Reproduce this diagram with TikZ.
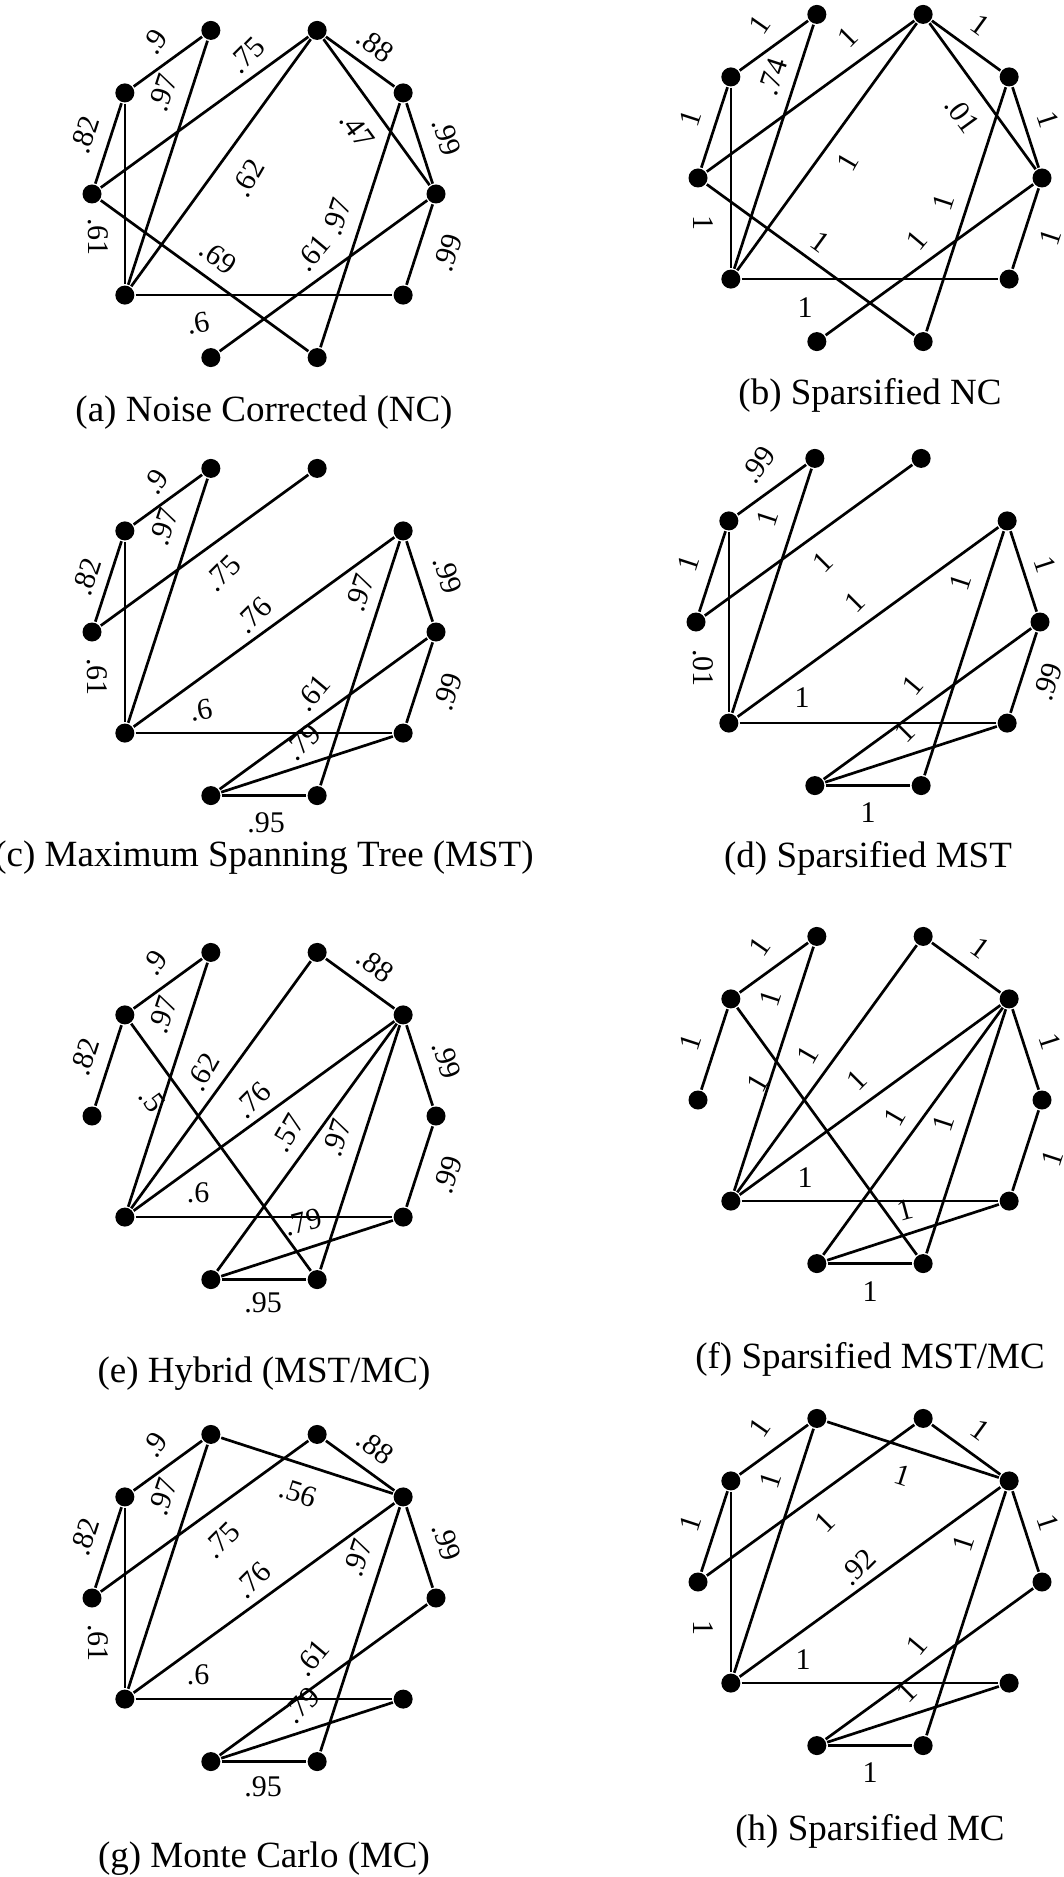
\documentclass[tikz,border=0pt]{standalone}
\usepackage{fontspec}
\setmainfont{Liberation Serif}
\tikzset{
  vtx/.style={circle, fill=black, inner sep=0pt, minimum size=9.5pt},
  lbl/.style={inner sep=0pt, font=\fontsize{15}{15}\selectfont},
  captext/.style={inner sep=0pt, font=\fontsize{18.5}{20}\selectfont}
}
\begin{document}
\begin{tikzpicture}[x=0.5pt, y=-0.5pt, line width=1.35pt]
\useasboundingbox (0,0) rectangle (1064,1877);

% (a) noise corrected
\begin{scope}[shift={(264,194)}]
  \foreach \i in {0,...,9}
    \node[vtx] (a\i) at ({172*cos(36*\i)},{-172*sin(36*\i)}) {};
  \draw (a3) -- (a4);
  \draw (a4) -- (a5);
  \draw (a4) -- (a6);
  \draw (a3) -- (a6);
  \draw (a2) -- (a5);
  \draw (a2) -- (a6);
  \draw (a2) -- (a1);
  \draw (a2) -- (a0);
  \draw (a1) -- (a0);
  \draw (a0) -- (a9);
  \draw (a5) -- (a8);
  \draw (a0) -- (a7);
  \draw (a1) -- (a8);
  \draw (a6) -- (a9);
  \node[lbl, rotate=55] at (-109,-152) {.9};
  \node[lbl, rotate=72] at (-179,-59) {.82};
  \node[lbl, rotate=-90] at (-166,43) {.61};
  \node[lbl, rotate=72] at (-101,-101) {.97};
  \node[lbl, rotate=45] at (-17,-139) {.75};
  \node[lbl, rotate=60] at (-16,-16) {.62};
  \node[lbl, rotate=-36] at (111,-149) {.88};
  \node[lbl, rotate=-54] at (93,-64) {.47};
  \node[lbl, rotate=-72] at (183,-57) {.99};
  \node[lbl, rotate=72] at (184,59) {.99};
  \node[lbl, rotate=-36] at (-46,63) {.69};
  \node[lbl, rotate=50] at (49,59) {.61};
  \node[lbl, rotate=72] at (73,23) {.97};
  \node[lbl, rotate=10] at (-66,129) {.6};
\end{scope}
\node[captext] (capa) at (264,413) {(a) Noise Corrected (NC)};

% (b) sparsified NC
\begin{scope}[shift={(870,178)}]
  \foreach \i in {0,...,9}
    \node[vtx] (b\i) at ({172*cos(36*\i)},{-172*sin(36*\i)}) {};
  \draw (b3) -- (b4);
  \draw (b4) -- (b5);
  \draw (b4) -- (b6);
  \draw (b3) -- (b6);
  \draw (b2) -- (b5);
  \draw (b2) -- (b6);
  \draw (b2) -- (b1);
  \draw (b2) -- (b0);
  \draw (b1) -- (b0);
  \draw (b0) -- (b9);
  \draw (b5) -- (b8);
  \draw (b0) -- (b7);
  \draw (b1) -- (b8);
  \draw (b6) -- (b9);
  \node[lbl, rotate=55] at (-110,-153) {1};
  \node[lbl, rotate=72] at (-180,-60) {1};
  \node[lbl, rotate=-90] at (-167,45) {1};
  \node[lbl, rotate=72] at (-97,-101) {.74};
  \node[lbl, rotate=45] at (-22,-141) {1};
  \node[lbl, rotate=60] at (-22,-16) {1};
  \node[lbl, rotate=-36] at (110,-153) {1};
  \node[lbl, rotate=-54] at (92,-63) {.01};
  \node[lbl, rotate=-72] at (178,-58) {1};
  \node[lbl, rotate=72] at (180,59) {1};
  \node[lbl, rotate=-36] at (-50,64) {1};
  \node[lbl, rotate=50] at (47,62) {1};
  \node[lbl, rotate=72] at (73,24) {1};
  \node[lbl] at (-65,130) {1};
\end{scope}
\node[captext] (capb) at (870,395) {(b) Sparsified NC};

% (c) maximum spanning tree
\begin{scope}[shift={(264,632)}]
  \foreach \i in {0,...,9}
    \node[vtx] (c\i) at ({172*cos(36*\i)},{-172*sin(36*\i)}) {};
  \draw (c3) -- (c4);
  \draw (c4) -- (c5);
  \draw (c4) -- (c6);
  \draw (c3) -- (c6);
  \draw (c2) -- (c5);
  \draw (c1) -- (c6);
  \draw (c6) -- (c9);
  \draw (c1) -- (c8);
  \draw (c1) -- (c0);
  \draw (c0) -- (c9);
  \draw (c0) -- (c7);
  \draw (c9) -- (c7);
  \draw (c7) -- (c8);
  \node[lbl, rotate=55] at (-108,-150) {.9};
  \node[lbl, rotate=72] at (-100,-105) {.97};
  \node[lbl, rotate=72] at (-177,-55) {.82};
  \node[lbl, rotate=-90] at (-167,45) {.61};
  \node[lbl, rotate=45] at (-41,-59) {.75};
  \node[lbl, rotate=45] at (-10,-17) {.76};
  \node[lbl, rotate=10] at (-63,78) {.6};
  \node[lbl, rotate=72] at (96,-39) {.97};
  \node[lbl, rotate=-72] at (184,-57) {.99};
  \node[lbl, rotate=72] at (184,60) {.99};
  \node[lbl, rotate=50] at (49,61) {.61};
  \node[lbl, rotate=45] at (39,110) {.79};
  \node[lbl] at (2,191) {.95};
\end{scope}
\node[captext] (capc) at (264,858) {(c) Maximum Spanning Tree (MST)};

% (d) sparsified MST
\begin{scope}[shift={(868,622)}]
  \foreach \i in {0,...,9}
    \node[vtx] (d\i) at ({172*cos(36*\i)},{-172*sin(36*\i)}) {};
  \draw (d3) -- (d4);
  \draw (d4) -- (d5);
  \draw (d4) -- (d6);
  \draw (d3) -- (d6);
  \draw (d2) -- (d5);
  \draw (d1) -- (d6);
  \draw (d6) -- (d9);
  \draw (d1) -- (d8);
  \draw (d1) -- (d0);
  \draw (d0) -- (d9);
  \draw (d0) -- (d7);
  \draw (d9) -- (d7);
  \draw (d7) -- (d8);
  \node[lbl, rotate=55] at (-110,-157) {.99};
  \node[lbl, rotate=72] at (-101,-104) {1};
  \node[lbl, rotate=72] at (-180,-59) {1};
  \node[lbl, rotate=-90] at (-165,46) {.01};
  \node[lbl, rotate=45] at (-45,-60) {1};
  \node[lbl, rotate=45] at (-13,-20) {1};
  \node[lbl] at (-66,76) {1};
  \node[lbl, rotate=72] at (92,-40) {1};
  \node[lbl, rotate=-72] at (177,-57) {1};
  \node[lbl, rotate=72] at (180,60) {.99};
  \node[lbl, rotate=50] at (45,63) {1};
  \node[lbl, rotate=45] at (37,110) {1};
  \node[lbl] at (0,191) {1};
\end{scope}
\node[captext] (capd) at (868,858) {(d) Sparsified MST};

% (e) hybrid
\begin{scope}[shift={(264,1116)}]
  \foreach \i in {0,...,9}
    \node[vtx] (e\i) at ({172*cos(36*\i)},{-172*sin(36*\i)}) {};
  \draw (e3) -- (e4);
  \draw (e4) -- (e5);
  \draw (e3) -- (e6);
  \draw (e4) -- (e8);
  \draw (e2) -- (e6);
  \draw (e2) -- (e1);
  \draw (e1) -- (e6);
  \draw (e1) -- (e7);
  \draw (e1) -- (e8);
  \draw (e1) -- (e0);
  \draw (e0) -- (e9);
  \draw (e6) -- (e9);
  \draw (e9) -- (e7);
  \draw (e7) -- (e8);
  \node[lbl, rotate=55] at (-109,-153) {.9};
  \node[lbl, rotate=72] at (-179,-59) {.82};
  \node[lbl, rotate=72] at (-101,-101) {.97};
  \node[lbl, rotate=-54] at (-112,-16) {.5};
  \node[lbl, rotate=60] at (-61,-44) {.62};
  \node[lbl, rotate=-36] at (111,-151) {.88};
  \node[lbl, rotate=45] at (-11,-16) {.76};
  \node[lbl, rotate=60] at (24,17) {.57};
  \node[lbl, rotate=72] at (73,22) {.97};
  \node[lbl, rotate=-72] at (183,-56) {.99};
  \node[lbl, rotate=72] at (184,59) {.99};
  \node[lbl] at (-66,77) {.6};
  \node[lbl, rotate=15] at (39,106) {.79};
  \node[lbl] at (-1,187) {.95};
\end{scope}
\node[captext] (cape) at (264,1374) {(e) Hybrid (MST/MC)};

% (f) sparsified hybrid
\begin{scope}[shift={(870,1100)}]
  \foreach \i in {0,...,9}
    \node[vtx] (f\i) at ({172*cos(36*\i)},{-172*sin(36*\i)}) {};
  \draw (f3) -- (f4);
  \draw (f4) -- (f5);
  \draw (f3) -- (f6);
  \draw (f4) -- (f8);
  \draw (f2) -- (f6);
  \draw (f2) -- (f1);
  \draw (f1) -- (f6);
  \draw (f1) -- (f7);
  \draw (f1) -- (f8);
  \draw (f1) -- (f0);
  \draw (f0) -- (f9);
  \draw (f6) -- (f9);
  \draw (f9) -- (f7);
  \draw (f7) -- (f8);
  \node[lbl, rotate=55] at (-110,-153) {1};
  \node[lbl, rotate=72] at (-180,-58) {1};
  \node[lbl, rotate=72] at (-100,-102) {1};
  \node[lbl, rotate=60] at (-112,-17) {1};
  \node[lbl, rotate=60] at (-62,-45) {1};
  \node[lbl, rotate=-36] at (110,-152) {1};
  \node[lbl, rotate=45] at (-13,-20) {1};
  \node[lbl, rotate=60] at (25,17) {1};
  \node[lbl, rotate=72] at (73,23) {1};
  \node[lbl, rotate=-72] at (180,-58) {1};
  \node[lbl, rotate=72] at (182,58) {1};
  \node[lbl] at (-65,78) {1};
  \node[lbl, rotate=15] at (35,110) {1};
  \node[lbl] at (0,192) {1};
\end{scope}
\node[captext] (capf) at (870,1359) {(f) Sparsified MST/MC};

% (g) monte carlo
\begin{scope}[shift={(264,1598)}]
  \foreach \i in {0,...,9}
    \node[vtx] (g\i) at ({172*cos(36*\i)},{-172*sin(36*\i)}) {};
  \draw (g3) -- (g4);
  \draw (g4) -- (g5);
  \draw (g4) -- (g6);
  \draw (g3) -- (g6);
  \draw (g3) -- (g1);
  \draw (g2) -- (g5);
  \draw (g2) -- (g1);
  \draw (g1) -- (g6);
  \draw (g1) -- (g8);
  \draw (g1) -- (g0);
  \draw (g0) -- (g7);
  \draw (g6) -- (g9);
  \draw (g9) -- (g7);
  \draw (g7) -- (g8);
  \node[lbl, rotate=55] at (-109,-153) {.9};
  \node[lbl, rotate=72] at (-179,-61) {.82};
  \node[lbl, rotate=-90] at (-166,45) {.61};
  \node[lbl, rotate=72] at (-101,-101) {.97};
  \node[lbl, rotate=-18] at (34,-105) {.56};
  \node[lbl, rotate=45] at (-42,-58) {.75};
  \node[lbl, rotate=-36] at (111,-151) {.88};
  \node[lbl, rotate=45] at (-11,-18) {.76};
  \node[lbl, rotate=72] at (94,-40) {.97};
  \node[lbl, rotate=-72] at (183,-56) {.99};
  \node[lbl, rotate=50] at (48,60) {.61};
  \node[lbl] at (-66,77) {.6};
  \node[lbl, rotate=45] at (38,107) {.79};
  \node[lbl] at (-1,189) {.95};
\end{scope}
\node[captext] (capg) at (264,1859) {(g) Monte Carlo (MC)};

% (h) sparsified MC
\begin{scope}[shift={(870,1582)}]
  \foreach \i in {0,...,9}
    \node[vtx] (h\i) at ({172*cos(36*\i)},{-172*sin(36*\i)}) {};
  \draw (h3) -- (h4);
  \draw (h4) -- (h5);
  \draw (h4) -- (h6);
  \draw (h3) -- (h6);
  \draw (h3) -- (h1);
  \draw (h2) -- (h5);
  \draw (h2) -- (h1);
  \draw (h1) -- (h6);
  \draw (h1) -- (h8);
  \draw (h1) -- (h0);
  \draw (h0) -- (h7);
  \draw (h6) -- (h9);
  \draw (h9) -- (h7);
  \draw (h7) -- (h8);
  \node[lbl, rotate=55] at (-110,-154) {1};
  \node[lbl, rotate=72] at (-180,-59) {1};
  \node[lbl, rotate=-90] at (-167,46) {1};
  \node[lbl, rotate=72] at (-100,-102) {1};
  \node[lbl, rotate=-18] at (33,-107) {1};
  \node[lbl, rotate=45] at (-45,-60) {1};
  \node[lbl, rotate=-36] at (110,-152) {1};
  \node[lbl, rotate=45] at (-12,-15) {.92};
  \node[lbl, rotate=72] at (93,-39) {1};
  \node[lbl, rotate=-72] at (178,-59) {1};
  \node[lbl, rotate=50] at (47,63) {1};
  \node[lbl] at (-67,78) {1};
  \node[lbl, rotate=45] at (37,110) {1};
  \node[lbl] at (0,191) {1};
\end{scope}
\node[captext] (caph) at (870,1831) {(h) Sparsified MC};
\end{tikzpicture}
\end{document}
